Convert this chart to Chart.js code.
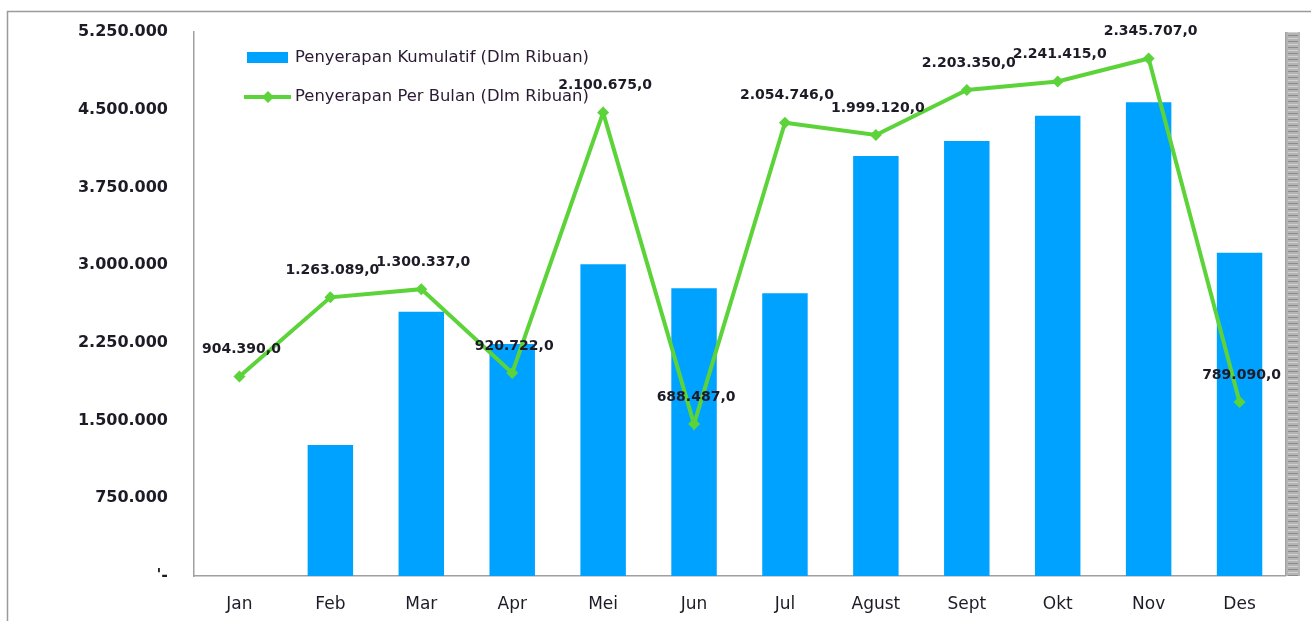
<!DOCTYPE html>
<html>
<head>
<meta charset="utf-8">
<script src="https://cdn.jsdelivr.net/npm/chart.js@4.4.1/dist/chart.umd.min.js"></script>
<style>
  html, body { margin: 0; padding: 0; background: #ffffff; }
  #wrap { width: 1311px; height: 621px; position: relative; }
</style>
</head>
<body>
<div id="wrap"><canvas id="grafik" width="1311" height="621"></canvas></div>
<script>
// data
const bulan = ['Jan', 'Feb', 'Mar', 'Apr', 'Mei', 'Jun', 'Jul', 'Agust', 'Sept', 'Okt', 'Nov', 'Des'];
const kumulatif = [0, 1263089, 2550000, 2240000, 3008000, 2777000, 2728000, 4053000, 4198000, 4442000, 4571000, 3120000];
const perBulan = [904390, 1263089, 1300337, 920722, 2100675, 688487, 2054746, 1999120, 2203350, 2241415, 2345707, 789090];
const labelSumbuY = ["'-", '750.000', '1.500.000', '2.250.000', '3.000.000', '3.750.000', '4.500.000', '5.250.000'];
const namaSeri = ['Penyerapan Kumulatif (Dlm Ribuan)', 'Penyerapan Per Bulan (Dlm Ribuan)'];

const biru = '#00a2ff';
const hijau = '#5dd33a';
const teks = '#1d1b26';

// format angka gaya Indonesia: 904.390,0
function formatAngka(v) {
    const s = Math.round(v).toString().replace(/\B(?=(\d{3})+(?!\d))/g, '.');
    return s + ',0';
}

const bingkai = {
    id: 'bingkai',
    beforeDraw(chart) {
        const ctx = chart.ctx;
        const area = chart.chartArea;
        ctx.save();
        ctx.fillStyle = '#ffffff';
        ctx.fillRect(0, 0, chart.width, chart.height);
        // bingkai luar
        ctx.strokeStyle = '#9a9a9a';
        ctx.lineWidth = 1.5;
        ctx.beginPath();
        ctx.moveTo(7.5, chart.height + 5);
        ctx.lineTo(7.5, 11.5);
        ctx.lineTo(chart.width + 5, 11.5);
        ctx.stroke();
        // garis kanan area plot
        ctx.strokeStyle = '#a0a0a0';
        ctx.lineWidth = 1;
        ctx.beginPath();
        ctx.moveTo(area.right + 0.5, area.top);
        ctx.lineTo(area.right + 0.5, area.bottom);
        ctx.stroke();
        // pita bergaris di kanan
        ctx.fillStyle = '#b4b4b4';
        ctx.fillRect(area.right + 1, area.top, 14, area.bottom - area.top);
        for (let y = area.top; y < area.bottom; y += 3) {
            ctx.fillStyle = (y % 2) ? '#8c8c8c' : '#d0d0d0';
            ctx.fillRect(area.right + 3, y, 10, 1);
        }
        ctx.restore();
    }
};

const labelData = {
    id: 'labelData',
    afterDatasetsDraw(chart) {
        const ctx = chart.ctx;
        const meta = chart.getDatasetMeta(1);
        ctx.save();
        ctx.font = 'bold 14px "DejaVu Sans"';
        ctx.fillStyle = teks;
        ctx.textAlign = 'center';
        ctx.textBaseline = 'middle';
        meta.data.forEach((pt, i) => {
            ctx.fillText(formatAngka(perBulan[i]), pt.x + 2, pt.y - 27);
        });
        ctx.restore();
    }
};

const legendaKustom = {
    id: 'legendaKustom',
    afterDraw(chart) {
        const ctx = chart.ctx;
        ctx.save();
        ctx.fillStyle = biru;
        ctx.fillRect(247, 52, 41, 11);
        ctx.strokeStyle = hijau;
        ctx.lineWidth = 4;
        ctx.beginPath();
        ctx.moveTo(244, 97);
        ctx.lineTo(291, 97);
        ctx.stroke();
        ctx.fillStyle = hijau;
        ctx.beginPath();
        ctx.moveTo(268, 91);
        ctx.lineTo(274, 97);
        ctx.lineTo(268, 103);
        ctx.lineTo(262, 97);
        ctx.closePath();
        ctx.fill();
        ctx.font = '16.4px "DejaVu Sans"';
        ctx.fillStyle = '#2a1a33';
        ctx.textAlign = 'left';
        ctx.textBaseline = 'middle';
        ctx.fillText(namaSeri[0], 295, 58);
        ctx.fillText(namaSeri[1], 295, 97);
        ctx.restore();
    }
};

new Chart(document.getElementById('grafik').getContext('2d'), {
    data: {
        labels: bulan,
        datasets: [
            {
                type: 'bar',
                label: namaSeri[0],
                data: kumulatif,
                backgroundColor: biru,
                barPercentage: 0.5,
                categoryPercentage: 1.0,
                yAxisID: 'y',
                order: 2
            },
            {
                type: 'line',
                label: namaSeri[1],
                data: perBulan,
                borderColor: hijau,
                backgroundColor: hijau,
                borderWidth: 4,
                pointStyle: 'rectRot',
                pointRadius: 6,
                pointBorderWidth: 0,
                tension: 0,
                yAxisID: 'y1',
                order: 1
            }
        ]
    },
    options: {
        responsive: false,
        animation: false,
        layout: { padding: { top: 32, right: 26, left: 0, bottom: 0 } },
        plugins: {
            legend: { display: false },
            tooltip: { enabled: false }
        },
        scales: {
            x: {
                grid: { display: false, drawTicks: false },
                border: { display: true, color: '#a0a0a0', width: 1.5 },
                ticks: {
                    color: teks,
                    font: { family: 'DejaVu Sans', size: 17 },
                    padding: 18,
                    maxRotation: 0
                },
                afterFit(scale) { scale.height = 45; }
            },
            y: {
                min: 0,
                max: 5250000,
                grid: { display: false, drawTicks: false },
                border: { display: true, color: '#a0a0a0', width: 1.5 },
                ticks: {
                    stepSize: 750000,
                    color: teks,
                    font: { family: 'DejaVu Sans', size: 16, weight: 'bold' },
                    padding: 26,
                    callback: (v, i) => labelSumbuY[i]
                },
                afterFit(scale) {
                    scale.width = 194;
                    scale.paddingTop = 0;
                    scale.paddingBottom = 0;
                }
            },
            y1: {
                display: false,
                position: 'right',
                min: 0,
                max: 2466000
            }
        }
    },
    plugins: [bingkai, labelData, legendaKustom]
});
</script>
</body>
</html>
